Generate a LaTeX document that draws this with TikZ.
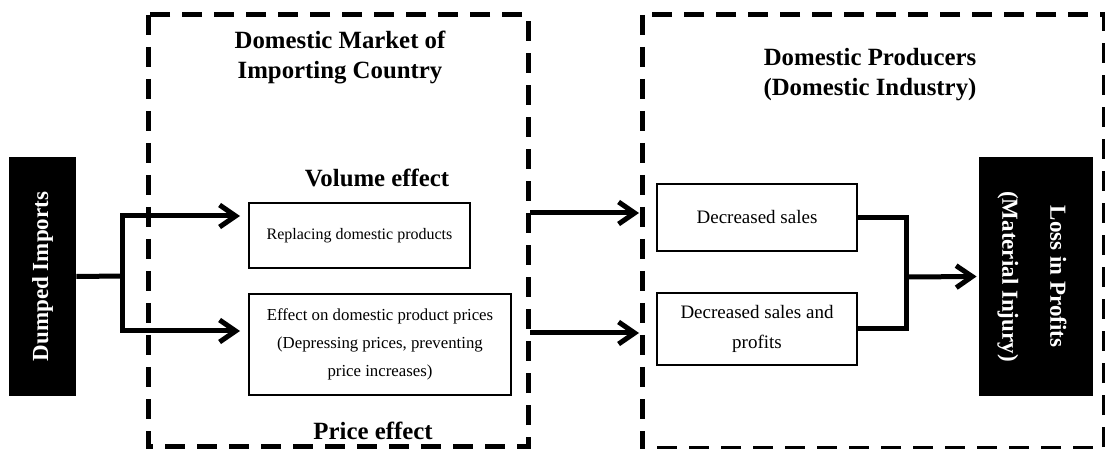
\documentclass[tikz,border=0pt]{standalone}
\usepackage{fontspec}
\setmainfont{Liberation Serif}
\usepackage{graphicx}
\usetikzlibrary{arrows.meta}

\begin{document}
\begin{tikzpicture}[x=0.5pt,y=-0.5pt,
  box/.style={draw,line width=0.75pt,inner sep=0pt,align=center,font=\fontsize{9.5}{15}\selectfont},
  blackbox/.style={fill=black,text=white,inner sep=0pt,font=\bfseries\fontsize{11.5}{24}\selectfont},
  heading/.style={inner sep=0pt,align=center,font=\bfseries\fontsize{12.4}{15}\selectfont},
  region/.style={line width=2.5pt,dash pattern=on 10pt off 6pt},
  conn/.style={line width=2.5pt},
  arr/.style={conn,-{Straight Barb[length=8pt,width=11pt]}}]
\useasboundingbox (0,0) rectangle (1105,449);

% dashed frames
\draw[region] (148,15) rectangle (528,446);
\draw[region] (642,15) rectangle (1104,448);

\node[heading] at (340,58) (mkt) {Domestic Market of\\Importing Country};
\node[heading] at (870,75) (prod) {Domestic Producers\\(Domestic Industry)};
\node[heading] at (377,178) (vol) {Volume effect};
\node[heading] at (373,431) (price) {Price effect};

\node[blackbox,minimum width=33.5pt,minimum height=119.5pt] at (42.5,276.5) (dump) {\rotatebox{90}{Dumped Imports}};
\node[blackbox,minimum width=57pt,minimum height=119.5pt] at (1036,276.5) (loss) {\rotatebox{-90}{\begin{tabular}{@{}c@{}}Loss in Profits\\(Material Injury)\end{tabular}}};

\node[box,font=\fontsize{8}{14}\selectfont,minimum width=110.5pt,minimum height=32.5pt] at (359.5,235.5) (repl) {Replacing domestic products};
\node[box,font=\fontsize{8.4}{14}\selectfont,minimum width=131pt,minimum height=50.5pt] at (380,344.5) (eff) {Effect on domestic product prices\\(Depressing prices, preventing\\price increases)};
\node[box,minimum width=100pt,minimum height=33.5pt] at (757,217.5) (dsales) {Decreased sales};
\node[box,minimum width=100pt,minimum height=36pt] at (757,329) (dprof) {Decreased sales and\\profits};

\coordinate (jl) at (122,276);
\coordinate (a1) at (240,216);
\coordinate (a2) at (240,331);
\coordinate (b1) at (530,213);
\coordinate (c1) at (639,213);
\coordinate (b2) at (530,333);
\coordinate (c2) at (639,333);
\coordinate (jr) at (906,277);

\draw[conn] (dump.east) -- (jl);
\draw[arr] (jl) |- (a1);
\draw[arr] (jl) |- (a2);
\draw[arr] (b1) -- (c1);
\draw[arr] (b2) -- (c2);
\draw[conn] (dsales.east) -| (jr) |- (dprof.east);
\draw[arr] (jr) -- ([xshift=-1pt]loss.west);
\end{tikzpicture}
\end{document}
